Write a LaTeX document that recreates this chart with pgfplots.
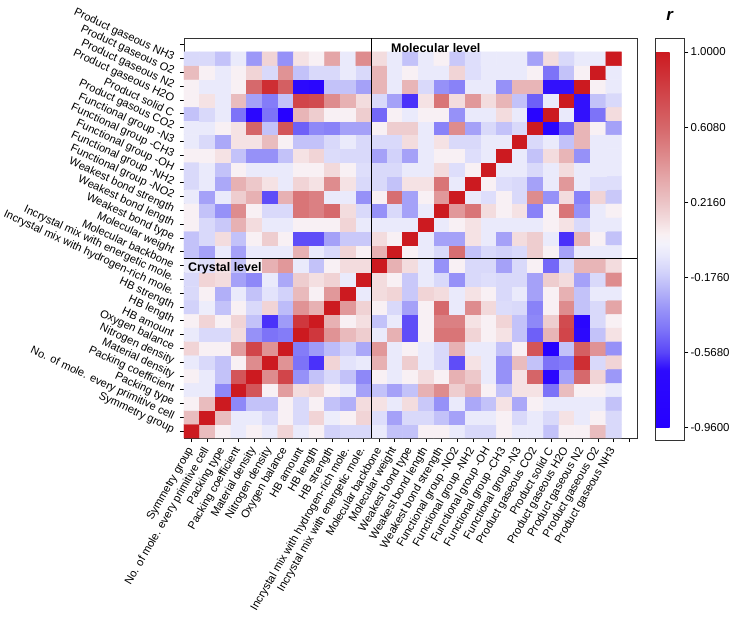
\documentclass[border=0pt]{standalone}
\usepackage{pgfplots}
\pgfplotsset{compat=1.18}
\usepackage{fontspec}
\setmainfont{Liberation Sans}
\begin{document}
\begin{tikzpicture}
\begin{axis}[
  scale only axis, width=453bp, height=400bp,
  xmin=-0.5, xmax=28.5, ymin=-0.5, ymax=28.5,
  axis line style={black!80, line width=0.9bp},
  xtick={0,...,28}, ytick={0,...,28},
  xticklabels={{Symmetry group},{No. of mole. every primitive cell},{Packing type},{Packing coefficient},{Material density},{Nitrogen density},{Oxygen balance},{HB amount},{HB length},{HB strength},{Incrystal mix with hydrogen-rich mole.},{Incrystal mix with energetic mole.},{Molecular backbone},{Molecular weight},{Weakest bond type},{Weakest bond length},{Weakest bond strength},{Functional group -NO2},{Functional group -NH2},{Functional group -OH},{Functional group -CH3},{Functional group -N3},{Product gaseous CO2},{Product solid C},{Product gaseous H2O},{Product gaseous N2},{Product gaseous O2},{Product gaseous NH3},{}},
  yticklabels={{Symmetry group},{No. of mole. every primitive cell},{Packing type},{Packing coefficient},{Material density},{Nitrogen density},{Oxygen balance},{HB amount},{HB length},{HB strength},{Incrystal mix with hydrogen-rich mole.},{Incrystal mix with energetic mole.},{Molecular backbone},{Molecular weight},{Weakest bond type},{Weakest bond length},{Weakest bond strength},{Functional group -NO2},{Functional group -NH2},{Functional group -OH},{Functional group -CH3},{Functional group -N3},{Product gasous CO2},{Product solid C},{Product gaseous H2O},{Product gaseous N2},{Product gaseous O2},{Product gaseous NH3},{}},
  tick align=outside, xtick pos=left, ytick pos=left,
  major tick length=4bp,
  tick style={black, line width=0.8bp},
  xticklabel shift=5bp, yticklabel shift=5bp,
  xticklabel style={rotate=60, anchor=east, font=\fontsize{11.2}{12}\selectfont, inner sep=1.5bp},
  yticklabel style={rotate=-25, anchor=east, font=\fontsize{11.2}{12}\selectfont, inner sep=1.5bp},
  colormap={rb}{
    rgb255(0bp)=(38,0,255)
    rgb255(30bp)=(45,10,253)
    rgb255(39.2bp)=(90,70,248)
    rgb255(51bp)=(125,115,248)
    rgb255(61bp)=(150,145,248)
    rgb255(71bp)=(180,178,248)
    rgb255(81bp)=(210,210,250)
    rgb255(90bp)=(232,232,251)
    rgb255(96bp)=(243,242,251)
    rgb255(101bp)=(249,240,242)
    rgb255(108bp)=(243,220,222)
    rgb255(118bp)=(235,195,197)
    rgb255(131bp)=(228,165,167)
    rgb255(141bp)=(222,140,142)
    rgb255(156bp)=(214,105,108)
    rgb255(176bp)=(208,65,70)
    rgb255(196bp)=(204,26,32)
  },
  point meta min=-0.96, point meta max=1,
  colorbar,
  colorbar style={
    xshift=9.5bp,
    scale only axis, width=29bp, height=402bp,
    ymin=-1.025, ymax=1.073,
    ytick={-0.96,-0.568,-0.176,0.216,0.608,1},
    yticklabels={-0.9600,-0.5680,-0.1760,0.2160,0.6080,1.0000},
    yticklabel style={font=\fontsize{11.5}{13}\selectfont, inner sep=2bp},
    ytick pos=right, tick align=outside, major tick length=4bp,
    tick style={black, line width=0.8bp},
    axis line style={black!80, line width=0.9bp},
    title={\textbf{\textit{r}}},
    title style={font=\fontsize{17}{17}\selectfont, at={(0.5,1)}, anchor=south, yshift=8bp},
  },
]
\addplot[matrix plot*, mesh/cols=28, mesh/rows=28, point meta=explicit, shader=flat corner]
  table[header=false, row sep=\\, x expr={\coordindex-28*floor((\coordindex+0.5)/28)}, y expr={floor((\coordindex+0.5)/28)}, meta index=0] {
1 \\ 0.25 \\ 0.04 \\ -0.05 \\ 0.04 \\ -0.05 \\ 0.15 \\ -0.05 \\ 0.04 \\ -0.15 \\ -0.12 \\ -0.12 \\ -0.05 \\ -0.2 \\ -0.2 \\ 0.04 \\ 0.04 \\ -0.05 \\ -0.12 \\ -0.12 \\ 0.04 \\ -0.05 \\ -0.05 \\ -0.2 \\ 0.04 \\ 0.04 \\ 0.25 \\ -0.12 \\
0.25 \\ 1 \\ 0.25 \\ -0.05 \\ -0.05 \\ -0.12 \\ 0.04 \\ -0.12 \\ 0.15 \\ -0.03 \\ 0.04 \\ 0.15 \\ -0.1 \\ -0.3 \\ -0.12 \\ -0.12 \\ -0.2 \\ -0.3 \\ -0.05 \\ -0.05 \\ 0.04 \\ -0.12 \\ -0.05 \\ -0.12 \\ 0.1 \\ -0.05 \\ 0.04 \\ -0.12 \\
0.04 \\ 0.25 \\ 1 \\ -0.38 \\ -0.2 \\ -0.2 \\ 0.04 \\ -0.12 \\ 0.04 \\ -0.2 \\ -0.26 \\ 0.12 \\ 0.1 \\ -0.05 \\ 0.12 \\ -0.18 \\ -0.35 \\ -0.05 \\ -0.28 \\ -0.2 \\ 0.1 \\ -0.28 \\ 0.04 \\ -0.05 \\ -0.05 \\ -0.05 \\ -0.05 \\ -0.2 \\
-0.05 \\ -0.05 \\ -0.38 \\ 1 \\ 0.7 \\ 0.04 \\ 0.38 \\ 0.12 \\ 0.15 \\ 0.04 \\ -0.05 \\ -0.3 \\ -0.2 \\ -0.3 \\ -0.2 \\ 0.3 \\ 0.45 \\ 0.18 \\ 0.3 \\ 0.04 \\ -0.2 \\ 0.1 \\ 0.1 \\ -0.45 \\ 0.25 \\ 0.04 \\ 0.04 \\ -0.05 \\
0.04 \\ -0.05 \\ -0.2 \\ 0.7 \\ 1 \\ 0.45 \\ 0.78 \\ -0.35 \\ -0.2 \\ -0.12 \\ -0.2 \\ -0.38 \\ 0.04 \\ -0.05 \\ 0.04 \\ 0.12 \\ 0.04 \\ 0.3 \\ 0.2 \\ -0.05 \\ -0.35 \\ 0.1 \\ 0.62 \\ -0.75 \\ -0.3 \\ 0.6 \\ 0.15 \\ -0.33 \\
-0.05 \\ -0.12 \\ -0.2 \\ 0.04 \\ 0.45 \\ 1 \\ 0.42 \\ -0.45 \\ -0.6 \\ 0.15 \\ -0.08 \\ -0.05 \\ 0.3 \\ -0.05 \\ 0.18 \\ -0.05 \\ -0.12 \\ -0.55 \\ 0.1 \\ -0.05 \\ -0.35 \\ 0.25 \\ -0.2 \\ -0.45 \\ -0.42 \\ 0.9 \\ -0.12 \\ 0.15 \\
0.15 \\ 0.04 \\ 0.04 \\ 0.38 \\ 0.78 \\ 0.42 \\ 1 \\ -0.42 \\ -0.32 \\ -0.22 \\ -0.15 \\ -0.28 \\ 0.4 \\ -0.05 \\ 0.04 \\ -0.05 \\ -0.12 \\ 0.3 \\ -0.05 \\ -0.05 \\ -0.2 \\ 0.04 \\ 0.7 \\ -0.92 \\ -0.2 \\ 0.65 \\ 0.42 \\ -0.35 \\
-0.05 \\ -0.12 \\ -0.12 \\ 0.12 \\ -0.35 \\ -0.45 \\ -0.42 \\ 1 \\ 0.85 \\ 0.42 \\ 0.26 \\ 0.18 \\ -0.05 \\ 0.3 \\ -0.55 \\ 0.04 \\ 0.55 \\ 0.55 \\ 0.15 \\ 0.04 \\ 0.1 \\ -0.2 \\ -0.5 \\ 0.28 \\ 0.78 \\ -0.7 \\ -0.2 \\ 0.1 \\
0.04 \\ 0.15 \\ 0.04 \\ 0.15 \\ -0.2 \\ -0.6 \\ -0.32 \\ 0.85 \\ 1 \\ 0.3 \\ 0.04 \\ 0.11 \\ -0.2 \\ -0.05 \\ -0.55 \\ 0.04 \\ 0.5 \\ 0.5 \\ 0.1 \\ 0.04 \\ 0.15 \\ -0.2 \\ -0.38 \\ 0.18 \\ 0.75 \\ -0.78 \\ -0.12 \\ 0.04 \\
-0.15 \\ -0.03 \\ -0.2 \\ 0.04 \\ -0.12 \\ 0.15 \\ -0.22 \\ 0.42 \\ 0.3 \\ 1 \\ 0.4 \\ 0.16 \\ 0.04 \\ -0.12 \\ -0.3 \\ 0.04 \\ 0.6 \\ -0.05 \\ 0.45 \\ 0.13 \\ -0.11 \\ -0.12 \\ -0.4 \\ 0.04 \\ 0.45 \\ -0.2 \\ -0.12 \\ 0.35 \\
-0.12 \\ 0.04 \\ -0.26 \\ -0.05 \\ -0.2 \\ -0.08 \\ -0.15 \\ 0.26 \\ 0.04 \\ 0.4 \\ 1 \\ -0.05 \\ 0.12 \\ 0.15 \\ -0.18 \\ 0.15 \\ 0.12 \\ -0.05 \\ 0.1 \\ 0.04 \\ -0.12 \\ -0.05 \\ -0.3 \\ 0.04 \\ 0.3 \\ -0.2 \\ -0.05 \\ -0.05 \\
-0.12 \\ 0.15 \\ 0.12 \\ -0.3 \\ -0.38 \\ -0.05 \\ -0.28 \\ 0.18 \\ 0.11 \\ 0.16 \\ -0.05 \\ 1 \\ 0.12 \\ 0.04 \\ -0.18 \\ -0.05 \\ -0.12 \\ -0.35 \\ -0.12 \\ -0.1 \\ -0.12 \\ -0.12 \\ -0.3 \\ 0.18 \\ 0.12 \\ -0.3 \\ -0.12 \\ 0.45 \\
-0.05 \\ -0.1 \\ 0.1 \\ -0.2 \\ 0.04 \\ 0.3 \\ 0.4 \\ -0.05 \\ -0.2 \\ 0.04 \\ 0.12 \\ 0.12 \\ 1 \\ 0.3 \\ 0.12 \\ -0.05 \\ -0.35 \\ 0.04 \\ -0.12 \\ -0.12 \\ -0.3 \\ -0.12 \\ 0.04 \\ -0.48 \\ -0.12 \\ 0.28 \\ 0.28 \\ 0.12 \\
-0.2 \\ -0.3 \\ -0.05 \\ -0.3 \\ -0.05 \\ -0.05 \\ -0.05 \\ 0.3 \\ -0.05 \\ -0.12 \\ 0.15 \\ 0.04 \\ 0.3 \\ 1 \\ 0.04 \\ -0.05 \\ -0.12 \\ 0.58 \\ -0.2 \\ -0.12 \\ -0.15 \\ -0.12 \\ 0.18 \\ 0.04 \\ -0.3 \\ -0.05 \\ -0.05 \\ -0.05 \\
-0.2 \\ -0.12 \\ 0.12 \\ -0.2 \\ 0.04 \\ 0.18 \\ 0.04 \\ -0.55 \\ -0.55 \\ -0.3 \\ -0.18 \\ -0.18 \\ 0.12 \\ 0.04 \\ 1 \\ -0.05 \\ -0.3 \\ -0.3 \\ 0.1 \\ -0.05 \\ -0.3 \\ 0.12 \\ 0.18 \\ -0.05 \\ -0.6 \\ 0.28 \\ 0.04 \\ -0.2 \\
0.04 \\ -0.12 \\ -0.18 \\ 0.3 \\ 0.12 \\ -0.05 \\ -0.05 \\ 0.04 \\ 0.04 \\ 0.04 \\ 0.15 \\ -0.05 \\ -0.05 \\ -0.05 \\ -0.05 \\ 1 \\ -0.05 \\ 0.04 \\ 0.1 \\ -0.05 \\ -0.05 \\ -0.05 \\ -0.05 \\ 0.04 \\ 0.1 \\ -0.12 \\ -0.05 \\ -0.05 \\
0.04 \\ -0.2 \\ -0.35 \\ 0.45 \\ 0.04 \\ -0.12 \\ -0.12 \\ 0.55 \\ 0.5 \\ 0.6 \\ 0.12 \\ -0.12 \\ -0.35 \\ -0.12 \\ -0.3 \\ -0.05 \\ 1 \\ 0.4 \\ 0.55 \\ 0.12 \\ 0.04 \\ 0.1 \\ -0.4 \\ 0.04 \\ 0.55 \\ -0.35 \\ -0.05 \\ 0.04 \\
-0.05 \\ -0.3 \\ -0.05 \\ 0.18 \\ 0.3 \\ -0.55 \\ 0.3 \\ 0.55 \\ 0.5 \\ -0.05 \\ -0.05 \\ -0.35 \\ 0.04 \\ 0.58 \\ -0.3 \\ 0.04 \\ 0.4 \\ 1 \\ -0.05 \\ -0.1 \\ 0.04 \\ -0.12 \\ 0.45 \\ -0.35 \\ 0.12 \\ -0.4 \\ 0.15 \\ -0.18 \\
-0.12 \\ -0.05 \\ -0.28 \\ 0.3 \\ 0.2 \\ 0.1 \\ -0.05 \\ 0.15 \\ 0.1 \\ 0.45 \\ 0.1 \\ -0.12 \\ -0.12 \\ -0.2 \\ 0.1 \\ 0.1 \\ 0.55 \\ -0.05 \\ 1 \\ 0.04 \\ -0.1 \\ -0.12 \\ -0.3 \\ -0.05 \\ 0.4 \\ -0.05 \\ -0.1 \\ -0.1 \\
-0.12 \\ -0.05 \\ -0.2 \\ 0.04 \\ -0.05 \\ -0.05 \\ -0.05 \\ 0.04 \\ 0.04 \\ 0.13 \\ 0.04 \\ -0.1 \\ -0.12 \\ -0.12 \\ -0.05 \\ -0.05 \\ 0.12 \\ -0.1 \\ 0.04 \\ 1 \\ -0.05 \\ -0.05 \\ -0.12 \\ -0.05 \\ 0.12 \\ -0.05 \\ -0.05 \\ -0.05 \\
0.04 \\ 0.04 \\ 0.1 \\ -0.2 \\ -0.35 \\ -0.35 \\ -0.2 \\ 0.1 \\ 0.15 \\ -0.11 \\ -0.12 \\ -0.12 \\ -0.3 \\ -0.15 \\ -0.3 \\ -0.05 \\ 0.04 \\ 0.04 \\ -0.1 \\ -0.05 \\ 1 \\ -0.05 \\ -0.2 \\ 0.12 \\ 0.28 \\ -0.35 \\ -0.05 \\ -0.05 \\
-0.05 \\ -0.12 \\ -0.28 \\ 0.1 \\ 0.1 \\ 0.25 \\ 0.04 \\ -0.2 \\ -0.2 \\ -0.12 \\ -0.05 \\ -0.12 \\ -0.12 \\ -0.12 \\ 0.12 \\ -0.05 \\ 0.1 \\ -0.12 \\ -0.12 \\ -0.05 \\ -0.05 \\ 1 \\ -0.12 \\ -0.05 \\ -0.2 \\ 0.28 \\ -0.05 \\ -0.05 \\
-0.05 \\ -0.05 \\ 0.04 \\ 0.1 \\ 0.62 \\ -0.2 \\ 0.7 \\ -0.5 \\ -0.38 \\ -0.4 \\ -0.3 \\ -0.3 \\ 0.04 \\ 0.18 \\ 0.18 \\ -0.05 \\ -0.4 \\ 0.45 \\ -0.3 \\ -0.12 \\ -0.2 \\ -0.12 \\ 1 \\ -0.82 \\ -0.5 \\ 0.28 \\ 0.04 \\ -0.3 \\
-0.2 \\ -0.12 \\ -0.05 \\ -0.45 \\ -0.75 \\ -0.45 \\ -0.92 \\ 0.28 \\ 0.18 \\ 0.04 \\ 0.04 \\ 0.18 \\ -0.48 \\ 0.04 \\ -0.05 \\ 0.04 \\ 0.04 \\ -0.35 \\ -0.05 \\ -0.05 \\ 0.12 \\ -0.05 \\ -0.82 \\ 1 \\ -0.05 \\ -0.65 \\ -0.45 \\ 0.12 \\
0.04 \\ 0.1 \\ -0.05 \\ 0.25 \\ -0.3 \\ -0.42 \\ -0.2 \\ 0.78 \\ 0.75 \\ 0.45 \\ 0.3 \\ 0.12 \\ -0.12 \\ -0.3 \\ -0.6 \\ 0.1 \\ 0.55 \\ 0.12 \\ 0.4 \\ 0.12 \\ 0.28 \\ -0.2 \\ -0.5 \\ -0.05 \\ 1 \\ -0.65 \\ -0.2 \\ -0.12 \\
0.04 \\ -0.05 \\ -0.05 \\ 0.04 \\ 0.6 \\ 0.9 \\ 0.65 \\ -0.7 \\ -0.78 \\ -0.2 \\ -0.2 \\ -0.3 \\ 0.28 \\ -0.05 \\ 0.28 \\ -0.12 \\ -0.35 \\ -0.4 \\ -0.05 \\ -0.05 \\ -0.35 \\ 0.28 \\ 0.28 \\ -0.65 \\ -0.65 \\ 1 \\ 0.04 \\ -0.05 \\
0.25 \\ 0.04 \\ -0.05 \\ 0.04 \\ 0.15 \\ -0.12 \\ 0.42 \\ -0.2 \\ -0.12 \\ -0.12 \\ -0.05 \\ -0.12 \\ 0.28 \\ -0.05 \\ 0.04 \\ -0.05 \\ -0.05 \\ 0.15 \\ -0.1 \\ -0.05 \\ -0.05 \\ -0.05 \\ 0.04 \\ -0.45 \\ -0.2 \\ 0.04 \\ 1 \\ -0.05 \\
-0.12 \\ -0.12 \\ -0.2 \\ -0.05 \\ -0.33 \\ 0.15 \\ -0.35 \\ 0.1 \\ 0.04 \\ 0.35 \\ -0.05 \\ 0.45 \\ 0.12 \\ -0.05 \\ -0.2 \\ -0.05 \\ 0.04 \\ -0.18 \\ -0.1 \\ -0.05 \\ -0.05 \\ -0.05 \\ -0.3 \\ 0.12 \\ -0.12 \\ -0.05 \\ -0.05 \\ 1 \\
};
\draw[black, line width=1.2bp] (axis cs:11.5,-0.5) -- (axis cs:11.5,28.5);
\draw[black, line width=1.2bp] (axis cs:-0.5,12.5) -- (axis cs:28.5,12.5);
\node[anchor=west, font=\bfseries\fontsize{12.5}{14}\selectfont, inner sep=0pt] at (axis cs:12.75,27.8) {Molecular level};
\node[anchor=west, font=\bfseries\fontsize{12.5}{14}\selectfont, inner sep=0pt] at (axis cs:-0.25,11.83) {Crystal level};
\end{axis}
\pgfresetboundingbox
\path[use as bounding box] (-184bp,-181bp) rectangle (549bp,438bp);
\end{tikzpicture}
\end{document}
